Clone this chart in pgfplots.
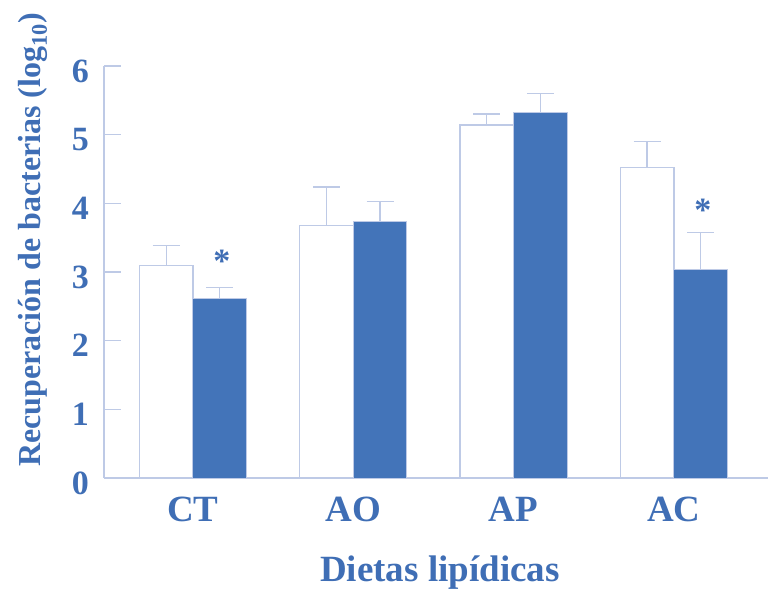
\documentclass[border=0pt]{standalone}
\usepackage{fontspec}
\setmainfont{Liberation Serif}
\usepackage{pgfplots}
\pgfplotsset{compat=1.18}
\usepackage{pgfplotstable}

\definecolor{textblue}{RGB}{63,110,181}
\definecolor{barblue}{RGB}{67,116,185}
\definecolor{linecol}{RGB}{190,202,230}

% group, mean, upper error
\pgfplotstableread{
x    y     e
0    3.09  0.30
1    3.68  0.56
2    5.14  0.16
3    4.52  0.38
}\whitebars
\pgfplotstableread{
x    y     e
0    2.61  0.16
1    3.73  0.30
2    5.32  0.28
3    3.03  0.55
}\bluebars

\begin{document}
\begin{tikzpicture}
\useasboundingbox (0,0) rectangle (768pt,590pt);
\begin{axis}[
  at={(104pt,112pt)}, anchor=south west,
  scale only axis, width=664pt, height=412pt,
  xmin=-0.555, xmax=3.587, ymin=0, ymax=6,
  axis x line*=bottom, axis y line*=left,
  axis line style={linecol, line width=1.3pt, -},
  xtick={0,1,2,3}, xticklabels={CT,AO,AP,AC},
  x tick style={draw=none},
  ytick={0,1,2,3,4,5,6},
  y tick style={linecol, line width=1.3pt},
  tick align=inside, major tick length=17pt,
  /pgf/number format/assume math mode=true,
  ticklabel style={text=textblue, font=\bfseries\fontsize{34pt}{34pt}\selectfont, inner sep=0pt},
  xticklabel style={anchor=north, yshift=-19pt, font=\bfseries\fontsize{37pt}{37pt}\selectfont},
  yticklabel style={anchor=east, xshift=-15pt, yshift=-5pt},
  xlabel={Dietas lipídicas},
  ylabel={Recuperación de bacterias (log\textsubscript{10})},
  label style={text=textblue, inner sep=0pt},
  xlabel style={at={(axis description cs:0.506,-0.250)}, anchor=base,
    font=\bfseries\fontsize{37pt}{37pt}\selectfont},
  ylabel style={at={(axis description cs:-0.107,0.578)}, anchor=center, rotate=0,
    font=\bfseries\fontsize{32pt}{32pt}\selectfont},
  clip=false,
]
% control group bars (white), placed left of each category
\addplot[ybar, bar width=0.334, bar shift=0, fill=white, draw=linecol, line width=1.3pt,
  error bars/.cd, y dir=plus, y explicit,
  error bar style={linecol, line width=1.3pt},
  error mark options={linecol, line width=1.3pt, mark size=13.5pt, rotate=90}]
  table[x expr=\thisrow{x}-0.167, y=y, y error=e] {\whitebars};
% treated group bars (blue), placed right of each category
\addplot[ybar, bar width=0.334, bar shift=0, fill=barblue, draw=linecol, line width=1.0pt,
  error bars/.cd, y dir=plus, y explicit,
  error bar style={linecol, line width=1.3pt},
  error mark options={linecol, line width=1.3pt, mark size=13.5pt, rotate=90}]
  table[x expr=\thisrow{x}+0.167, y=y, y error=e] {\bluebars};
% significance asterisks
\addplot[only marks, mark=none, nodes near coords={*},
  every node near coord/.style={anchor=center, inner sep=0pt, text=textblue,
    font=\bfseries\fontsize{34pt}{34pt}\selectfont}]
  coordinates {(0.18,3.15) (3.18,3.90)};
\end{axis}
\end{tikzpicture}
\end{document}
